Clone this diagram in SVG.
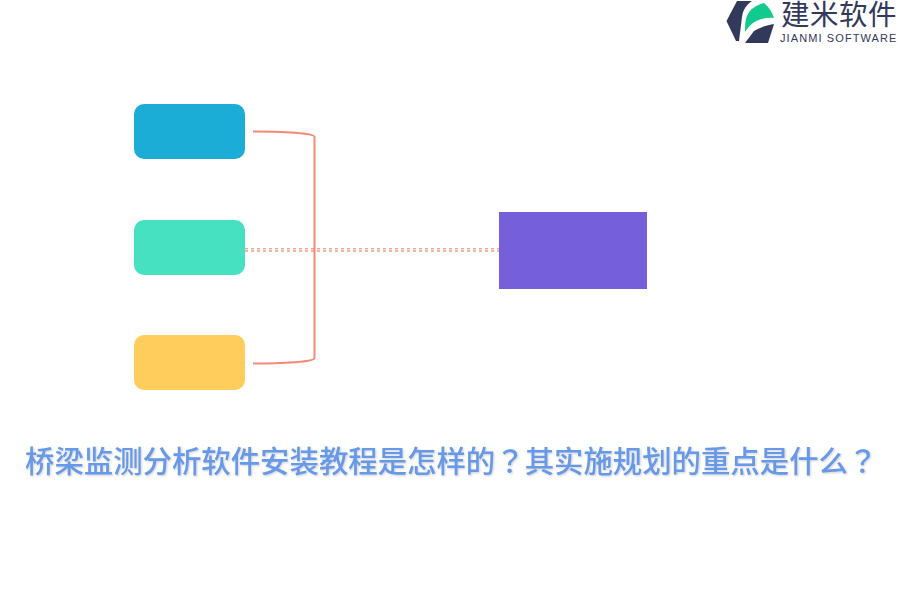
<svg xmlns="http://www.w3.org/2000/svg" width="900" height="600" viewBox="0 0 900 600">
<defs><style>
.box{stroke:none}
.conn{fill:none;stroke:#f58b76;stroke-width:2}
.dash{fill:none;stroke-width:1;stroke-dasharray:3 3}
.title{font-family:"Noto Sans CJK SC","Noto Sans",sans-serif;font-size:29.4px;font-weight:500;fill:#6699e8;filter:drop-shadow(1px 1px 1px rgba(60,60,90,.25))}
.q{font-family:"Noto Sans CJK TC",sans-serif}
</style></defs>
<rect width="900" height="600" fill="#fff"/>
<g id="connectors">
<path class="conn" d="M253 131.500C280 131.500 314.500 133 314.500 137V358C314.500 362 280 363.500 253 363.500"/>
<path class="dash" stroke="#ec8068" d="M245 248.800H499"/>
<path class="dash" stroke="#e5704f" d="M245 251H499"/>
</g>
<g id="node-blue"><rect class="box" x="134" y="104" width="111" height="55" rx="10" fill="#1badd6"/></g>
<g id="node-green"><rect class="box" x="134" y="220" width="111" height="55" rx="10" fill="#45e1c0"/></g>
<g id="node-yellow"><rect class="box" x="134" y="335" width="111" height="55" rx="10" fill="#ffcd5c"/></g>
<g id="node-purple"><rect class="box" x="499" y="212" width="148" height="77" fill="#765fdb"/></g>
<g id="title"><text class="title" x="25" y="472">桥梁监测分析软件安装教程是怎样的<tspan class="q">？</tspan>其实施规划的重点是什么<tspan class="q">？</tspan></text></g>
<g id="logo">
<path d="M726.500 21L737 1H752C746 5 743 10 742 17L739 41H736Z" fill="#33395a"/>
<path d="M745 43L754 31C760 27 768 25 774 24L768 43Z" fill="#33395a"/>
<path d="M745 32C745 26 745 20 747 16C750 9 756 5 764 3C769 7 772 12 774 18C760 17 751 22 745 32Z" fill="#12c98e"/>
<text x="781" y="25" font-family="'Noto Sans CJK SC',sans-serif" font-size="28.500" letter-spacing="0.500" fill="#33395a">建米软件</text>
<text x="780" y="42" font-family="'Liberation Sans',sans-serif" font-size="11" letter-spacing="1.100" fill="#33395a">JIANMI SOFTWARE</text>
</g>
</svg>
